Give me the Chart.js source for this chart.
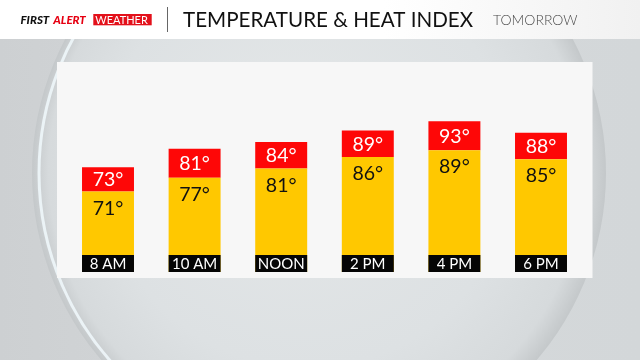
<!DOCTYPE html>
<html><head><meta charset="utf-8">
<script src="https://cdn.jsdelivr.net/npm/chart.js@4.4.1/dist/chart.umd.min.js"></script>
<style>
html,body{margin:0;padding:0;width:640px;height:360px;overflow:hidden;background:#d2d5d7;}
canvas{position:absolute;left:0;top:0;}
</style></head>
<body>
<canvas id="c" width="640" height="360"></canvas>
<script>
const labels = ['8 AM', '10 AM', 'NOON', '2 PM', '4 PM', '6 PM'];
const temperature = [71, 77, 81, 86, 89, 85];
const heatIndex = [73, 81, 84, 89, 93, 88];
const titleText = 'TEMPERATURE & HEAT INDEX';
const subtitleText = 'TOMORROW';

const FONT = 'Lato, "Open Sans", sans-serif';
// heat-index boxes sit on a second axis shifted by this many degrees (leaves room for the label)
const labelShift = 8.6;
const yMin = 36, yMax = 123;

const backdrop = {
  id: 'backdrop',
  beforeDraw(chart) {
    const ctx = chart.ctx;
    ctx.save();
    let g = ctx.createLinearGradient(0, 0, 640, 0);
    g.addColorStop(0, '#cdd0d2'); g.addColorStop(0.5, '#d6d9db'); g.addColorStop(1, '#d3d7d9');
    ctx.fillStyle = g; ctx.fillRect(0, 0, 640, 360);
    const cx = 319, cy = 173, r = 287;
    g = ctx.createRadialGradient(cx - 40, cy - 30, 10, cx, cy, r);
    g.addColorStop(0, '#e4e7e8'); g.addColorStop(0.7, '#dde1e3'); g.addColorStop(0.93, '#d6dadc'); g.addColorStop(1, '#c4c8ca');
    ctx.beginPath(); ctx.arc(cx, cy, r, 0, Math.PI * 2); ctx.fillStyle = g; ctx.fill();
    ctx.beginPath(); ctx.arc(cx + 3, cy, r - 4, Math.PI * 0.62, Math.PI * 1.38);
    ctx.strokeStyle = 'rgba(238,246,250,0.9)'; ctx.lineWidth = 3; ctx.stroke();
    g = ctx.createLinearGradient(0, 0, 640, 0);
    g.addColorStop(0, '#ffffff'); g.addColorStop(0.6, '#ffffff'); g.addColorStop(1, '#f1f1f1');
    ctx.fillStyle = g; ctx.fillRect(0, 0, 640, 39);
    ctx.textBaseline = 'alphabetic'; ctx.textAlign = 'left';
    ctx.font = 'italic 900 11.5px ' + FONT;
    ctx.fillStyle = '#111'; ctx.fillText('FIRST', 20.5, 23.5);
    ctx.fillStyle = '#e60012'; ctx.fillText('ALERT', 53.3, 23.5);
    ctx.fillStyle = '#e3111b'; ctx.fillRect(93.3, 14, 58.4, 11.3);
    ctx.fillStyle = '#ffffff'; ctx.font = '400 11px ' + FONT;
    ctx.fillText('WEATHER', 95.3, 23.6);
    ctx.fillStyle = '#666'; ctx.fillRect(167, 7, 1, 25);
    ctx.fillStyle = '#111'; ctx.font = '400 20.6px ' + FONT;
    ctx.fillText(titleText, 183, 26.7);
    ctx.fillStyle = '#4a4a4a'; ctx.font = '300 14px ' + FONT;
    ctx.fillText(subtitleText, 493, 25);
    ctx.fillStyle = '#f7f7f7'; ctx.fillRect(57, 62, 535.5, 216);
    ctx.restore();
  }
};

const barLabels = {
  id: 'barLabels',
  afterDatasetsDraw(chart) {
    const ctx = chart.ctx;
    const tMeta = chart.getDatasetMeta(0);
    const hMeta = chart.getDatasetMeta(1);
    const base = chart.chartArea.bottom;
    ctx.save();
    ctx.textAlign = 'center'; ctx.textBaseline = 'alphabetic';
    tMeta.data.forEach((el, i) => {
      const w = el.width, x = el.x, top = el.y;
      const htop = hMeta.data[i].y;
      ctx.fillStyle = '#050505';
      ctx.fillRect(x - w / 2, base - 17, w, 17);
      ctx.fillStyle = '#ffffff'; ctx.font = '400 15px ' + FONT;
      ctx.fillText(labels[i], x, base - 8.5 + 5.4);
      ctx.font = '400 19.5px ' + FONT;
      ctx.fillStyle = '#ffffff';
      ctx.fillText(heatIndex[i] + '°', x, (htop + top) / 2 + 7);
      ctx.fillStyle = '#111111';
      ctx.fillText(temperature[i] + '°', x, top + 16 + 7);
    });
    ctx.restore();
  }
};

new Chart(document.getElementById('c'), {
  type: 'bar',
  data: {
    labels: labels,
    datasets: [
      { label: 'Temperature', data: temperature, yAxisID: 'y', backgroundColor: '#ffc800', grouped: false,
        categoryPercentage: 1, barPercentage: 0.6, order: 0 },
      { label: 'Heat Index', data: heatIndex.map((h, i) => [temperature[i] - labelShift, h]), yAxisID: 'y2',
        backgroundColor: '#fe0707', grouped: false, categoryPercentage: 1, barPercentage: 0.6, order: 1 }
    ]
  },
  options: {
    responsive: false,
    animation: false,
    layout: { padding: { left: 64.7, right: 55.7, top: 72, bottom: 88 } },
    plugins: { legend: { display: false }, tooltip: { enabled: false }, title: { display: false } },
    scales: {
      x: { display: false },
      y: { display: false, min: yMin, max: yMax },
      y2: { display: false, min: yMin - labelShift, max: yMax - labelShift }
    }
  },
  plugins: [backdrop, barLabels]
});
</script>
</body></html>
